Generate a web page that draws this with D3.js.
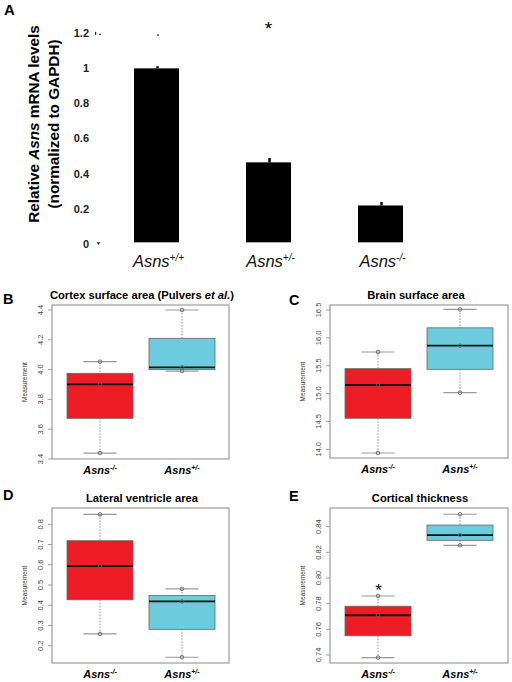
<!DOCTYPE html>
<html>
<head>
<meta charset="utf-8">
<script src="https://cdn.jsdelivr.net/npm/d3@7/dist/d3.min.js"></script>
<style>
  body { margin: 0; background: #fff; }
  svg { display: block; }
  text { font-family: "Liberation Sans", Arial, sans-serif; }
</style>
</head>
<body>
<svg id="chart" width="512" height="682"></svg>
<script>
// ---------- Panel A data ----------
const aCategories = ["+/+", "+/-", "-/-"];
const aValues = [1.0, 0.464, 0.218];
const aErrors = [0.012, 0.025, 0.02];
const aTicks = [0, 0.2, 0.4, 0.6, 0.8, 1.0, 1.2];
const aTickLabels = ["0", "0.2", "0.4", "0.6", "0.8", "1", "1.2"];

// ---------- Box panels data ----------
const groups = ["-/-", "+/-"];
const groupColors = ["#ee1c25", "#6ccbdc"];

// stats: [low whisker, q1, median, q3, high whisker]
const bStats = [[3.44, 3.673, 3.901, 3.975, 4.053], [3.99, 4.0, 4.015, 4.21, 4.40]];
const bPoints = [[4.053, 3.901, 3.44], [4.40, 4.015, 3.99]];
const bTicks = [3.4, 3.6, 3.8, 4.0, 4.2, 4.4];

const cStats = [[13.934, 14.557, 15.154, 15.447, 15.746], [15.016, 15.436, 15.86, 16.18, 16.51]];
const cPoints = [[15.746, 15.154, 13.934], [16.51, 15.86, 15.016]];
const cTicks = [14.0, 14.5, 15.0, 15.5, 16.0, 16.5];

const dStats = [[0.258, 0.427, 0.593, 0.719, 0.849], [0.143, 0.281, 0.419, 0.448, 0.481]];
const dPoints = [[0.849, 0.593, 0.258], [0.481, 0.419, 0.143]];
const dTicks = [0.2, 0.3, 0.4, 0.5, 0.6, 0.7, 0.8];

const eStats = [[0.738, 0.755, 0.771, 0.778, 0.786], [0.8255, 0.8294, 0.8335, 0.8413, 0.8497]];
const ePoints = [[0.786, 0.771, 0.738], [0.8497, 0.8335, 0.8255]];
const eTicks = [0.74, 0.76, 0.78, 0.80, 0.82, 0.84];

const svg = d3.select("#chart");

// ================= Panel A =================
(function () {
  const g = svg.append("g");
  const y = d3.scaleLinear().domain([0, 1.2]).range([243.7, 33.3]);
  const x = d3.scalePoint().domain(aCategories).range([156.5, 380.5]);
  const bw = 45;

  g.append("text").attr("x", 4).attr("y", 15).attr("font-size", 15)
    .attr("font-weight", "bold").text("A");

  // tick labels
  g.selectAll(".atick").data(aTicks).enter().append("text")
    .attr("x", 89).attr("y", d => y(d)).attr("dy", "0.36em")
    .attr("text-anchor", "end").attr("font-size", 11).attr("font-weight", "bold")
    .attr("fill", "#222")
    .text((d, i) => aTickLabels[i]);

  // little axis remnants
  g.append("rect").attr("x", 95).attr("y", y(1.2) - 1.5).attr("width", 1.2).attr("height", 3).attr("fill", "#222");
  g.append("circle").attr("cx", 100).attr("cy", y(1.2) + 1).attr("r", 0.9).attr("fill", "#222");
  g.append("path").attr("d", `M96.5,${y(0) - 1.5} L100.5,${y(0) - 1.5} L98.5,${y(0) + 1}Z`).attr("fill", "#222");
  g.append("circle").attr("cx", x("+/+") + 1.5).attr("cy", y(1.19)).attr("r", 0.9).attr("fill", "#222");

  // bars
  g.selectAll(".bar").data(aCategories).enter().append("rect")
    .attr("x", d => x(d) - bw / 2).attr("width", bw)
    .attr("y", (d, i) => y(aValues[i]))
    .attr("height", (d, i) => y(0) - 1.4 - y(aValues[i]))
    .attr("fill", "#000");

  // error marks
  g.selectAll(".err").data(aCategories).enter().append("line")
    .attr("x1", d => x(d) + 1).attr("x2", d => x(d) + 1)
    .attr("y1", (d, i) => y(aValues[i]))
    .attr("y2", (d, i) => y(aValues[i] + aErrors[i]))
    .attr("stroke", "#000").attr("stroke-width", 2.5);

  // star
  g.append("text").attr("x", x("+/-")).attr("y", 35).attr("text-anchor", "middle")
    .attr("font-size", 19).text("*");

  // category labels
  aCategories.forEach(c => {
    const t = g.append("text").attr("x", x(c) + 2).attr("y", 267).attr("text-anchor", "middle")
      .attr("font-size", 16.5).attr("font-style", "italic").attr("fill", "#111");
    t.append("tspan").text("Asns");
    t.append("tspan").attr("font-size", 10).attr("dy", -6).text(c);
  });

  // y title
  const yt = g.append("g").attr("transform", "translate(39,124) rotate(-90)");
  const l1 = yt.append("text").attr("text-anchor", "middle").attr("font-size", 15.3).attr("font-weight", "bold");
  l1.append("tspan").text("Relative ");
  l1.append("tspan").attr("font-style", "italic").text("Asns");
  l1.append("tspan").text(" mRNA levels");
  yt.append("text").attr("y", 19.5).attr("text-anchor", "middle").attr("font-size", 15.3)
    .attr("font-weight", "bold").text("(normalized to GAPDH)");
})();

// ================= Box panels =================
function boxPanel(cfg) {
  const g = svg.append("g");
  const [fx0, fy0, fx1, fy1] = cfg.frame;
  const y = d3.scaleLinear().domain(cfg.domain).range(cfg.range);
  const x = d3.scalePoint().domain(groups).range(cfg.centers);
  const hw = 33, cap = 16.5;

  // letter
  g.append("text").attr("x", cfg.letter[1]).attr("y", cfg.letter[2])
    .attr("font-size", 14.5).attr("font-weight", "bold").text(cfg.letter[0]);

  // title
  const tt = g.append("text").attr("x", (fx0 + fx1) / 2 + cfg.titleDx).attr("y", fy0 - 6.5)
    .attr("text-anchor", "middle").attr("font-size", 11.2).attr("font-weight", "bold");
  cfg.title.forEach(p => {
    const s = tt.append("tspan").text(p[0]);
    if (p[1]) s.attr("font-style", "italic");
  });

  // whiskers (dotted)
  groups.forEach((gr, i) => {
    const s = cfg.stats[i];
    const cx = x(gr);
    g.append("line").attr("x1", cx).attr("x2", cx).attr("y1", y(s[4])).attr("y2", y(s[3]))
      .attr("stroke", "#777").attr("stroke-dasharray", "1.5,1.5").attr("stroke-width", 0.8);
    g.append("line").attr("x1", cx).attr("x2", cx).attr("y1", y(s[1])).attr("y2", y(s[0]))
      .attr("stroke", "#777").attr("stroke-dasharray", "1.5,1.5").attr("stroke-width", 0.8);
    [s[0], s[4]].forEach(v => {
      g.append("line").attr("x1", cx - cap).attr("x2", cx + cap).attr("y1", y(v)).attr("y2", y(v))
        .attr("stroke", "#999").attr("stroke-width", 1.2);
    });
    g.append("rect").attr("x", cx - hw).attr("width", 2 * hw)
      .attr("y", y(s[3])).attr("height", y(s[1]) - y(s[3]))
      .attr("fill", groupColors[i]).attr("stroke", "#666").attr("stroke-width", 0.8);
    g.append("line").attr("x1", cx - hw).attr("x2", cx + hw).attr("y1", y(s[2])).attr("y2", y(s[2]))
      .attr("stroke", "#111").attr("stroke-width", 1.8);
    // points
    cfg.points[i].forEach(v => {
      g.append("circle").attr("cx", cx).attr("cy", y(v)).attr("r", 1.8)
        .attr("fill", "none").attr("stroke", "#666").attr("stroke-width", 0.9);
    });
    // x label
    const lt = g.append("text").attr("x", cx).attr("y", fy1 + 15).attr("text-anchor", "middle")
      .attr("font-size", 11).attr("font-weight", "bold").attr("font-style", "italic");
    lt.append("tspan").text("Asns");
    lt.append("tspan").attr("font-size", 7).attr("dy", -4.5).text(gr);
  });

  // frame
  g.append("rect").attr("x", fx0).attr("y", fy0).attr("width", fx1 - fx0).attr("height", fy1 - fy0)
    .attr("fill", "none").attr("stroke", "#888").attr("stroke-width", 1);

  // y axis ticks
  cfg.ticks.forEach(t => {
    g.append("line").attr("x1", fx0 - 4).attr("x2", fx0).attr("y1", y(t)).attr("y2", y(t))
      .attr("stroke", "#888").attr("stroke-width", 0.8);
    g.append("text").attr("transform", `translate(${fx0 - 9},${y(t)}) rotate(-90)`)
      .attr("text-anchor", "middle").attr("font-size", 7.5).attr("fill", "#444")
      .text(cfg.fmt(t));
  });

  // y title
  g.append("text").attr("transform", `translate(${fx0 - 25},${(fy0 + fy1) / 2}) rotate(-90)`)
    .attr("text-anchor", "middle").attr("font-size", 6.5).attr("fill", "#333").text("Measurement");

  if (cfg.star) {
    g.append("text").attr("x", x(groups[0]) + 0.5).attr("y", y(cfg.star) + 3)
      .attr("text-anchor", "middle").attr("font-size", 17).text("*");
  }
}

boxPanel({
  frame: [52, 305, 229, 459], domain: [3.4, 4.4], range: [459, 310], centers: [100, 182],
  ticks: bTicks, stats: bStats, points: bPoints, fmt: d3.format(".1f"),
  title: [["Cortex surface area (Pulvers "], ["et al.", true], [")"]], titleDx: 1.5,
  letter: ["B", 3, 304]
});
boxPanel({
  frame: [330, 305, 508, 458], domain: [14.0, 16.5], range: [449.3, 310], centers: [378, 460],
  ticks: cTicks, stats: cStats, points: cPoints, fmt: d3.format(".1f"),
  title: [["Brain surface area"]], titleDx: -3,
  letter: ["C", 289, 305]
});
boxPanel({
  frame: [52, 508, 229, 663], domain: [0.2, 0.8], range: [645.7, 524.3], centers: [100, 182],
  ticks: dTicks, stats: dStats, points: dPoints, fmt: d3.format(".1f"),
  title: [["Lateral ventricle area"]], titleDx: 1.5,
  letter: ["D", 3, 500]
});
boxPanel({
  frame: [330, 508, 508, 663], domain: [0.74, 0.84], range: [655, 526.7], centers: [378, 460],
  ticks: eTicks, stats: eStats, points: ePoints, fmt: d3.format(".2f"),
  title: [["Cortical thickness"]], titleDx: 1,
  letter: ["E", 289, 501], star: 0.7885
});
</script>
</body>
</html>
